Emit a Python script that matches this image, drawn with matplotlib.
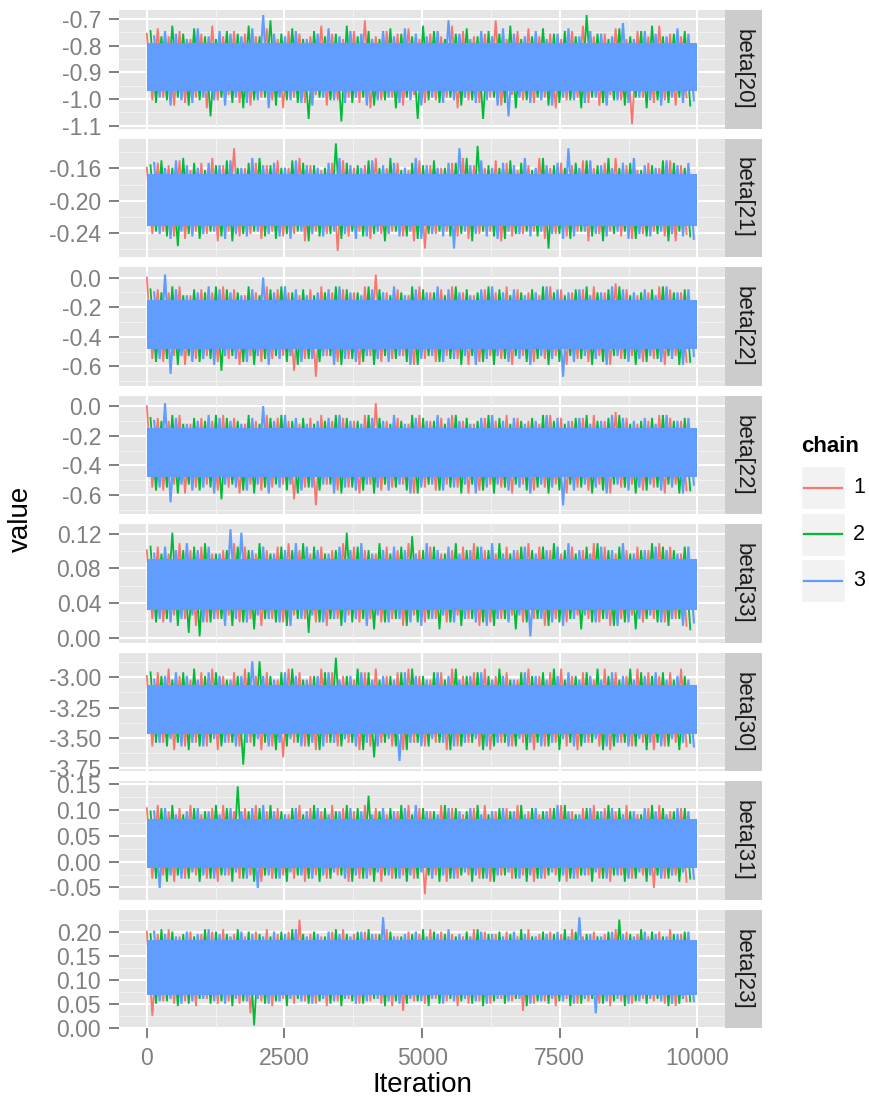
import numpy as np
import matplotlib.pyplot as plt
from matplotlib.patches import Rectangle

plt.rcParams['font.family'] = ['Liberation Sans', 'DejaVu Sans']

chains = ['1', '2', '3']
chain_colors = ['#F8766D', '#00BA38', '#619CFF']

# thinned iterations at which the trace peaks (up) and troughs (dn) are recorded
peak_iter = np.arange(0, 9800, 198)
trough_iter = peak_iter + 100
chain_shift = [0, 67, 133]

panels = ['beta[20]', 'beta[21]', 'beta[22]', 'beta[22]',
          'beta[33]', 'beta[30]', 'beta[31]', 'beta[23]']

# central band of each trace and the unit of the excursions beyond it
params = ['beta[20]', 'beta[21]', 'beta[22]', 'beta[33]', 'beta[30]', 'beta[31]', 'beta[23]']
core_lo = [-0.975, -0.232, -0.49, 0.030, -3.48, -0.015, 0.065]
core_hi = [-0.785, -0.165, -0.14, 0.093, -3.05, 0.085, 0.185]
unit = [0.01, 0.003, 0.02, 0.004, 0.03, 0.006, 0.005]

# excursions above (up) and below (dn) the band, chains 1, 2, 3
b20_up = [
    [3,5,2,4,1,3,6,2,4,3, 2,5,1,4,3,2,6,3,1,4, 8,2,4,3,5,1,3,2,6,4, 2,3,8,1,4,5,2,3,1,4, 6,2,3,5,1,4,2,6,3,2],
    [4,2,6,3,5,2,1,4,3,6, 2,8,3,5,1,4,2,3,6,2, 4,1,5,3,2,6,4,1,3,5, 2,4,3,6,1,2,5,3,4,2, 10,3,1,5,2,4,6,2,3,4],
    [2,4,3,1,5,2,4,3,2,5, 10,3,2,4,1,3,5,2,4,3, 1,4,2,5,3,2,4,8,3,1, 4,2,5,3,2,4,1,3,5,2, 4,3,2,7,1,4,3,2,5,3],
]
b20_dn = [
    [3,2,5,4,2,6,3,1,4,5, 2,3,6,2,4,1,5,3,2,4, 6,3,2,5,1,4,3,2,6,3, 4,2,5,1,3,4,2,6,3,2, 4,5,1,3,12,2,4,3,5,2],
    [4,3,2,5,3,9,2,4,6,3, 2,5,3,4,10,2,3,11,4,2, 5,3,6,2,10,3,4,2,5,3, 10,2,4,6,3,2,5,4,3,6, 2,4,3,5,2,6,3,4,2,5],
    [2,5,3,4,2,3,5,2,4,3, 6,2,3,4,5,2,3,4,2,5, 3,2,4,3,5,2,4,3,2,4, 3,5,9,2,4,3,5,2,3,4, 2,5,3,4,2,3,5,2,4,3],
]
b21_up = [
    [2,4,3,5,1,4,6,3,10,2, 4,3,5,2,6,3,1,4,5,2, 3,6,2,4,1,5,3,2,4,6, 3,2,5,4,1,3,6,2,4,3, 5,2,4,6,3,1,4,2,5,3],
    [3,5,2,6,4,1,3,5,2,4, 6,3,2,5,4,3,2,12,4,3, 5,2,6,1,4,3,5,2,4,6, 11,3,2,5,4,1,6,3,2,4, 5,3,6,2,4,1,3,5,4,2],
    [4,2,5,3,2,4,3,5,2,6, 3,4,2,5,3,2,4,6,3,2, 5,3,4,2,6,3,2,4,10,3, 5,2,4,3,6,2,3,4,10,2, 5,3,2,4,6,3,2,5,3,4],
]
b21_dn = [
    [3,2,4,5,2,3,6,2,4,3, 5,2,4,3,6,2,3,10,4,2, 5,3,2,4,6,9,3,2,4,5, 3,2,6,4,3,2,5,3,4,2, 6,3,2,4,5,3,2,4,6,3],
    [2,4,8,3,5,2,4,6,3,2, 4,5,3,2,6,4,3,5,2,4, 3,6,2,4,5,3,2,4,3,6, 2,4,5,3,2,4,9,3,5,2, 4,6,3,2,5,4,3,6,2,4],
    [3,5,2,4,3,2,5,3,4,2, 3,4,5,2,3,4,2,3,5,4, 2,3,4,2,5,3,4,9,2,3, 4,5,2,3,4,2,3,5,4,2, 3,4,2,5,3,4,2,3,4,5],
]
b22_up = [
    [7,3,2,4,1,3,2,4,3,1, 2,4,3,2,1,3,4,2,3,2, 4,8,2,3,1,4,2,3,4,2, 1,3,2,4,3,2,1,4,3,2, 3,4,2,5,3,1,2,4,3,2],
    [3,2,4,1,3,2,4,3,2,4, 1,3,4,2,3,1,2,4,3,2, 4,3,1,2,4,3,2,1,4,3, 2,4,3,1,2,3,4,2,1,3, 4,2,3,4,1,2,3,4,2,3],
    [2,8,3,1,2,4,3,2,1,3, 7,2,4,3,1,2,3,4,2,1, 3,2,4,1,3,2,4,3,2,1, 3,4,2,3,1,2,4,3,2,3, 1,2,4,3,2,3,1,4,2,3],
]
b22_dn = [
    [3,4,2,5,3,2,4,3,5,2, 4,3,2,7,3,9,2,4,3,5, 2,4,3,2,5,3,4,2,3,5, 4,2,3,5,2,4,3,2,5,3, 4,2,5,3,2,4,3,5,2,4],
    [4,3,5,2,4,3,7,2,4,5, 3,2,4,5,3,4,2,5,3,4, 5,2,3,4,5,2,4,3,5,2, 4,5,3,2,4,3,5,4,2,3, 5,4,2,3,5,4,3,2,5,4],
    [3,8,2,4,3,5,2,3,4,2, 5,3,2,4,3,2,5,3,4,2, 3,4,2,5,3,2,4,3,2,5, 3,2,4,3,5,2,3,9,4,2, 3,5,2,4,3,2,4,3,5,2],
]
b33_up = [
    [2,3,1,4,2,3,1,2,4,3, 1,2,3,4,2,1,3,2,4,3, 2,1,3,2,4,2,3,1,2,3, 4,2,1,3,2,4,3,2,1,3, 2,4,3,1,2,3,2,4,3,1],
    [3,1,7,2,3,4,1,2,3,2, 4,1,3,2,4,3,1,2,7,3, 2,4,1,3,6,2,3,1,4,2, 3,2,4,1,3,2,3,4,2,1, 3,4,2,3,1,2,4,3,2,3],
    [1,3,2,4,2,3,1,8,7,2, 3,1,2,4,3,2,1,3,2,4, 1,2,3,2,1,4,2,3,1,2, 3,4,1,2,3,1,2,3,4,2, 1,3,2,4,1,2,3,2,1,3],
]
b33_dn = [
    [2,3,1,2,4,3,2,1,3,2, 4,2,3,1,2,3,4,2,1,3, 2,3,2,4,1,3,2,3,1,2, 4,3,2,1,3,2,4,2,3,1, 2,3,4,2,1,3,2,3,2,4],
    [3,2,4,6,7,3,2,4,3,5, 2,3,4,2,6,3,2,4,3,2, 5,3,2,4,3,2,5,3,4,2, 3,4,2,5,3,2,4,3,2,5, 3,2,4,3,5,2,3,4,2,5],
    [2,3,2,1,3,2,4,2,3,1, 2,3,4,2,1,3,2,3,2,4, 1,3,2,3,4,2,1,3,2,3, 4,2,3,1,7,2,3,4,2,1, 3,2,4,3,2,1,3,2,4,3],
]
b30_up = [
    [2,3,4,2,1,3,4,2,3,4, 2,3,1,4,3,2,4,3,2,1, 3,4,2,3,4,2,1,3,4,2, 3,4,2,3,1,4,2,3,4,2, 3,1,4,3,2,4,3,2,3,4],
    [3,2,1,3,4,2,3,1,2,3, 6,2,3,4,1,2,3,7,2,4, 3,1,2,3,4,2,3,1,4,2, 3,2,4,1,3,2,3,4,1,2, 3,4,2,1,4,3,2,3,1,2],
    [1,2,3,2,1,3,2,1,2,6, 2,1,3,2,1,2,3,1,2,3, 1,2,1,3,2,1,3,2,1,2, 3,1,2,1,3,2,1,2,3,1, 2,1,3,2,1,2,3,1,2,1],
]
b30_dn = [
    [3,2,4,3,2,3,4,2,3,2, 4,3,6,2,3,4,2,3,2,4, 3,2,3,4,2,3,2,4,3,2, 3,4,2,3,2,4,3,2,3,4, 2,3,4,2,3,2,4,3,2,3],
    [2,3,2,4,3,2,3,2,8,3, 2,4,3,2,3,4,2,3,2,4, 6,2,3,4,2,3,2,4,3,2, 4,3,2,3,4,2,3,4,2,3, 2,4,3,2,3,4,2,3,4,2],
    [2,1,3,2,3,1,2,3,2,1, 3,2,1,3,2,3,2,1,3,2, 3,1,7,2,3,1,2,3,2,1, 3,2,3,1,2,3,2,1,3,2, 1,3,2,3,1,2,3,1,2,3],
]
b31_up = [
    [3,4,2,3,4,1,3,4,2,3, 4,2,3,1,4,3,2,4,3,2, 4,3,1,2,4,3,2,4,3,1, 3,4,2,3,4,2,1,3,4,2, 3,4,3,2,4,1,3,4,2,3],
    [2,3,4,1,3,2,4,3,10,2, 3,4,2,3,1,4,3,2,4,3, 7,2,3,4,1,3,2,4,3,2, 4,1,3,2,4,3,2,3,4,1, 3,2,4,3,2,1,4,3,2,3],
    [2,3,1,2,3,2,1,3,2,3, 4,2,1,3,2,3,1,2,3,2, 1,3,2,3,4,2,1,3,2,3, 1,2,3,2,1,3,2,4,2,1, 3,2,3,1,2,3,2,1,3,2],
]
b31_dn = [
    [3,2,4,3,2,3,4,2,3,2, 4,3,2,3,4,2,3,2,4,3, 2,4,3,2,3,8,2,4,3,2, 3,4,2,3,2,4,3,2,4,3, 2,3,4,2,3,2,6,3,2,4],
    [3,4,2,3,4,3,2,4,3,4, 2,3,4,2,3,4,3,2,4,3, 4,2,3,4,3,2,4,3,2,4, 3,4,2,3,4,3,2,4,3,2, 4,3,2,4,3,4,2,3,4,3],
    [6,2,3,1,2,3,2,1,3,6, 2,3,1,2,3,2,1,3,2,3, 1,2,3,2,1,3,2,3,1,2, 3,2,1,3,2,3,1,2,3,2, 1,3,2,3,1,2,3,2,1,3],
]
b23_up = [
    [3,2,4,1,3,2,3,4,2,1, 3,4,2,3,8,2,1,3,4,2, 3,2,4,1,3,2,4,3,2,1, 4,3,2,3,1,4,2,3,2,4, 1,3,2,4,3,2,1,3,4,2],
    [2,4,3,2,1,4,3,2,4,3, 2,1,3,4,2,3,1,4,2,3, 4,2,3,1,2,4,3,2,1,3, 4,2,3,2,4,1,3,2,4,3, 2,1,3,8,2,4,3,1,2,3],
    [3,2,1,3,2,4,2,1,3,2, 1,3,2,4,1,2,3,2,1,3, 2,9,1,2,3,1,2,4,2,1, 3,2,1,3,2,1,2,3,1,9, 2,1,3,2,1,3,2,1,2,3],
]
b23_dn = [
    [8,2,3,2,4,1,3,2,3,7, 2,4,1,3,2,3,4,2,1,3, 2,3,4,6,2,3,1,2,4,3, 2,3,1,2,6,3,2,4,1,3, 2,3,4,2,3,1,2,3,4,2],
    [3,2,4,3,1,3,2,4,2,12, 3,2,4,1,3,2,3,4,2,3, 1,4,2,3,2,4,3,1,2,3, 4,2,3,1,4,2,3,2,4,3, 1,3,2,4,2,3,1,4,3,2],
    [2,1,3,2,1,2,3,1,2,1, 3,2,1,2,3,1,2,1,3,2, 1,2,3,1,2,1,3,2,1,2, 3,1,2,1,3,2,1,2,3,1, 7,2,1,3,2,1,2,3,1,2],
]
excursion_up = [b20_up, b21_up, b22_up, b33_up, b30_up, b31_up, b23_up]
excursion_dn = [b20_dn, b21_dn, b22_dn, b33_dn, b30_dn, b31_dn, b23_dn]

# free y scales of the eight facets
y_lims = [(-1.111, -0.666), (-0.2695, -0.123), (-0.73, 0.07), (-0.73, 0.07),
          (-0.0054, 0.1307), (-3.775, -2.80), (-0.074, 0.1545), (-0.0015, 0.245)]
y_ticks = [[-1.1, -1.0, -0.9, -0.8, -0.7], [-0.24, -0.20, -0.16],
           [-0.6, -0.4, -0.2, 0.0], [-0.6, -0.4, -0.2, 0.0],
           [0.00, 0.04, 0.08, 0.12], [-3.75, -3.50, -3.25, -3.00],
           [-0.05, 0.00, 0.05, 0.10, 0.15], [0.00, 0.05, 0.10, 0.15, 0.20]]
y_decimals = [1, 2, 1, 1, 2, 2, 2, 2]
x_ticks = [0, 2500, 5000, 7500, 10000]

W, H = 869, 1103
fig = plt.figure(figsize=(W / 100, H / 100), dpi=100)


def px_rect(x0, y0, x1, y1):
    return [x0 / W, 1 - y1 / H, (x1 - x0) / W, (y1 - y0) / H]


grey = '#7F7F7F'
left, right, strip_right = 119.3, 725, 762
pitch, height = 128.57, 118.5
solid_inset = 0.5   # in excursion units, so the zigzag roughens the band edge
trace_lw = [1.3, 1.3, 1.5]

for i, name in enumerate(panels):
    p = params.index(name)
    top = 10 + i * pitch
    ax = fig.add_axes(px_rect(left, top, right, top + height))
    ax.set_facecolor('#E5E5E5')
    for s in ax.spines.values():
        s.set_visible(False)

    lo, hi = y_lims[i]
    ax.set_xlim(-500, 10500)
    ax.set_ylim(lo, hi)

    # grid: major white, minor half way between
    yt = np.array(y_ticks[i])
    dy = yt[1] - yt[0]
    y_minor = np.concatenate([[yt[0] - dy / 2], (yt[:-1] + yt[1:]) / 2, [yt[-1] + dy / 2]])
    for v in y_minor:
        if lo < v < hi:
            ax.axhline(v, color='#F2F2F2', lw=0.8, zorder=0)
    for v in yt:
        ax.axhline(v, color='white', lw=1.5, zorder=0)
    xt = np.array(x_ticks)
    for v in (xt[:-1] + xt[1:]) / 2:
        ax.axvline(v, color='#F2F2F2', lw=0.8, zorder=0)
    for v in xt:
        ax.axvline(v, color='white', lw=1.5, zorder=0)

    # traces: chain 1 first, chain 3 on top; each chain swings peak -> trough
    inset = solid_inset * unit[p]
    for c in range(3):
        col = chain_colors[c]
        peaks = core_hi[p] + np.array(excursion_up[p][c]) * unit[p]
        troughs = core_lo[p] - np.array(excursion_dn[p][c]) * unit[p]
        xs = np.column_stack([peak_iter + chain_shift[c], trough_iter + chain_shift[c]]).ravel()
        ys = np.column_stack([peaks, troughs]).ravel()
        ax.fill_between([0, 10000], core_lo[p] + inset, core_hi[p] - inset,
                        color=col, lw=0, zorder=2 + c)
        ax.plot(xs, ys, color=col, lw=trace_lw[c], zorder=2 + c, solid_joinstyle='miter')

    ax.set_yticks(yt)
    ax.set_yticklabels([f'{v:.{y_decimals[i]}f}' for v in yt])
    ax.tick_params(axis='y', length=7, width=1.4, color=grey, pad=6,
                   labelsize=16.5, labelcolor=grey)
    ax.set_xticks(x_ticks)
    if i == len(panels) - 1:
        ax.set_xticklabels([str(v) for v in x_ticks])
        ax.tick_params(axis='x', length=7, width=1.4, color=grey, pad=6,
                       labelsize=16.5, labelcolor=grey)
    else:
        ax.tick_params(axis='x', length=0, labelbottom=False)

    # facet strip on the right
    st = fig.add_axes(px_rect(right, top, strip_right, top + height))
    st.set_facecolor('#CCCCCC')
    st.set_xticks([])
    st.set_yticks([])
    for s in st.spines.values():
        s.set_visible(False)
    st.text(0.5, 0.5, name, rotation=-90, ha='center', va='center',
            fontsize=16, color='#1A1A1A', transform=st.transAxes)

fig.text(21 / W, 1 - 519 / H, 'value', rotation=90, ha='center', va='center',
         fontsize=20, color='black')
fig.text(422 / W, 1 - 1085 / H, 'Iteration', ha='center', va='center',
         fontsize=20, color='black')

# legend
lg = fig.add_axes([0, 0, 1, 1], facecolor='none')
lg.set_xlim(0, W)
lg.set_ylim(H, 0)
lg.axis('off')
lg.text(801, 447, 'chain', ha='left', va='center', fontsize=16, fontweight='bold')
for c, lab in enumerate(chains):
    y0 = 466 + c * 46.5
    lg.add_patch(Rectangle((801, y0), 44, 43, facecolor='#F2F2F2', edgecolor='white', lw=1))
    lg.plot([804, 842], [y0 + 21.5, y0 + 21.5], color=chain_colors[c], lw=1.6)
    lg.text(853, y0 + 21.5, lab, ha='left', va='center', fontsize=15.5)

fig.savefig('out.png', dpi=100)
